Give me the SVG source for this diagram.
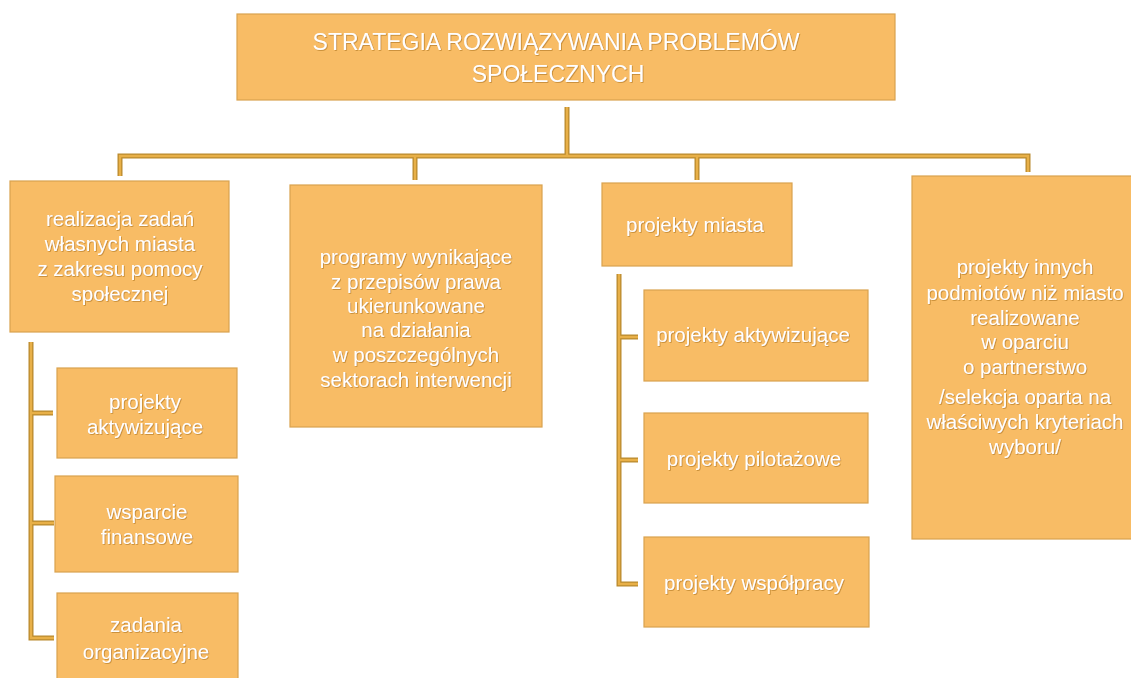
<svg xmlns="http://www.w3.org/2000/svg" width="1131" height="678" viewBox="0 0 1131 678">
<defs>
<filter id="sh" x="-5%" y="-20%" width="110%" height="140%">
<feDropShadow dx="0.8" dy="0.8" stdDeviation="0.6" flood-color="#a8701e" flood-opacity="0.7"/>
</filter>
<style>
.box{fill:#F8BC65;stroke:#D9A24F;stroke-width:1.2}
.t{font-family:"Liberation Sans",Arial,sans-serif;font-size:20.5px;fill:#ffffff;text-anchor:middle;filter:url(#sh)}
.title{font-size:23px}
.co{fill:none;stroke:#B98A2E;stroke-width:5;stroke-linejoin:miter;stroke-linecap:butt}
.ci{fill:none;stroke:#E8B048;stroke-width:2.4;stroke-linejoin:miter;stroke-linecap:butt}
</style>
</defs>
<rect width="1131" height="678" fill="#ffffff"/>
<g id="connectors">
<g class="co">
<path d="M567,107 V156"/>
<path d="M120,176 V156 H1028 V172"/>
<path d="M415,156 V180"/>
<path d="M697,156 V180"/>
<path d="M31,342 V638 H54"/>
<path d="M31,413 H53"/>
<path d="M31,523 H54"/>
<path d="M619,274 V584 H638"/>
<path d="M619,337 H638"/>
<path d="M619,460 H638"/>
</g>
<g class="ci">
<path d="M567,107 V156"/>
<path d="M120,176 V156 H1028 V172"/>
<path d="M415,156 V180"/>
<path d="M697,156 V180"/>
<path d="M31,342 V638 H54"/>
<path d="M31,413 H53"/>
<path d="M31,523 H54"/>
<path d="M619,274 V584 H638"/>
<path d="M619,337 H638"/>
<path d="M619,460 H638"/>
</g>
</g>
<g id="root">
<rect class="box" x="237" y="14" width="658" height="86"/>
<text class="t title" x="556" y="50">STRATEGIA ROZWIĄZYWANIA PROBLEMÓW</text>
<text class="t title" x="558" y="82">SPOŁECZNYCH</text>
</g>
<g id="realizacja">
<rect class="box" x="10" y="181" width="219" height="151"/>
<text class="t" x="120" y="226">realizacja zadań</text>
<text class="t" x="120" y="251">własnych miasta</text>
<text class="t" x="120" y="276">z zakresu pomocy</text>
<text class="t" x="120" y="301">społecznej</text>
</g>
<g id="programy">
<rect class="box" x="290" y="185" width="252" height="242"/>
<text class="t" x="416" y="264">programy wynikające</text>
<text class="t" x="416" y="289">z przepisów prawa</text>
<text class="t" x="416" y="313">ukierunkowane</text>
<text class="t" x="416" y="337">na działania</text>
<text class="t" x="416" y="362">w poszczególnych</text>
<text class="t" x="416" y="387">sektorach interwencji</text>
</g>
<g id="projekty-miasta">
<rect class="box" x="602" y="183" width="190" height="83"/>
<text class="t" x="695" y="232">projekty miasta</text>
</g>
<g id="projekty-innych">
<rect class="box" x="912" y="176" width="225" height="363"/>
<text class="t" x="1025" y="274">projekty innych</text>
<text class="t" x="1025" y="300">podmiotów niż miasto</text>
<text class="t" x="1025" y="325">realizowane</text>
<text class="t" x="1025" y="349">w oparciu</text>
<text class="t" x="1025" y="374">o partnerstwo</text>
<text class="t" x="1025" y="404">/selekcja oparta na</text>
<text class="t" x="1025" y="429">właściwych kryteriach</text>
<text class="t" x="1025" y="454">wyboru/</text>
</g>
<g id="a-aktywizujace">
<rect class="box" x="57" y="368" width="180" height="90"/>
<text class="t" x="145" y="409">projekty</text>
<text class="t" x="145" y="434">aktywizujące</text>
</g>
<g id="a-wsparcie">
<rect class="box" x="55" y="476" width="183" height="96"/>
<text class="t" x="147" y="519">wsparcie</text>
<text class="t" x="147" y="544">finansowe</text>
</g>
<g id="a-zadania">
<rect class="box" x="57" y="593" width="181" height="95"/>
<text class="t" x="146" y="632">zadania</text>
<text class="t" x="146" y="659">organizacyjne</text>
</g>
<g id="c-aktywizujace">
<rect class="box" x="644" y="290" width="224" height="91"/>
<text class="t" x="753" y="342">projekty aktywizujące</text>
</g>
<g id="c-pilotazowe">
<rect class="box" x="644" y="413" width="224" height="90"/>
<text class="t" x="754" y="466">projekty pilotażowe</text>
</g>
<g id="c-wspolpracy">
<rect class="box" x="644" y="537" width="225" height="90"/>
<text class="t" x="754" y="590">projekty współpracy</text>
</g>
</svg>
